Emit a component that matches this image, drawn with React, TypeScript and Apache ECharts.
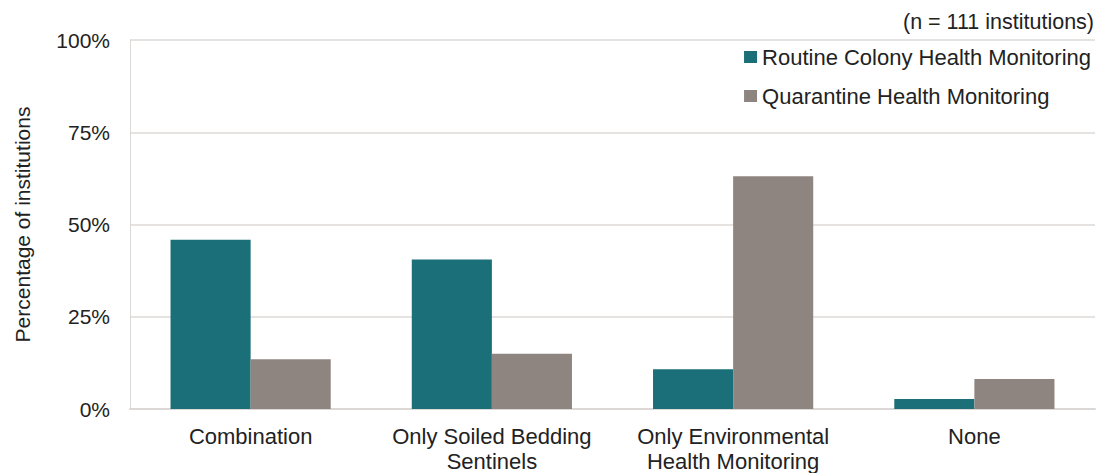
import React, { useEffect, useRef } from "react";
import * as echarts from "echarts";

const categories = ["Combination", "Only Soiled Bedding\nSentinels", "Only Environmental\nHealth Monitoring", "None"];
const routineValues = [45.9, 40.5, 10.8, 2.7];
const quarantineValues = [13.5, 15.0, 63.1, 8.1];
const yTicks = [0, 25, 50, 75, 100];
const seriesNames = ["Routine Colony Health Monitoring", "Quarantine Health Monitoring"];
const noteText = "(n = 111 institutions)";
const yAxisTitle = "Percentage of institutions";

const FONT = "'Liberation Sans', Arial, Helvetica, sans-serif";

export default function App() {
  const ref = useRef<HTMLDivElement>(null);
  useEffect(() => {
    if (!ref.current) return;
    const chart = echarts.init(ref.current, null, { renderer: "svg" });
    chart.setOption({
      animation: false,
      textStyle: { fontFamily: FONT },
      grid: { left: 130, right: 10, top: 40, bottom: 64, containLabel: false, outerBoundsMode: "none" },
      legend: {
        orient: "vertical",
        right: 9,
        top: 41,
        itemWidth: 13,
        itemHeight: 12,
        itemGap: 17,
        icon: "rect",
        textStyle: { fontSize: 22, color: "#222", fontFamily: FONT },
        data: seriesNames,
      },
      graphic: [
        {
          type: "text",
          right: 11,
          top: 11,
          style: { text: noteText, fontSize: 21.5, fill: "#222", fontFamily: FONT },
        },
      ],
      xAxis: {
        type: "category",
        data: categories,
        axisLine: { show: true, lineStyle: { color: "#dcd8d6", width: 2 } },
        axisTick: { show: false },
        axisLabel: { fontSize: 22, color: "#222", lineHeight: 25, margin: 15, interval: 0 },
      },
      yAxis: {
        type: "value",
        min: 0,
        max: 100,
        interval: 25,
        name: yAxisTitle,
        nameLocation: "middle",
        nameGap: 97,
        nameTextStyle: { fontSize: 21, color: "#222", fontFamily: FONT },
        axisLine: { show: true, lineStyle: { color: "#dcd8d6", width: 1 } },
        axisTick: { show: false },
        axisLabel: {
          fontSize: 21,
          color: "#222",
          margin: 20,
          formatter: (v: number) => (yTicks.includes(v) ? v + "%" : ""),
        },
        splitLine: { lineStyle: { color: "#e6e2e0", width: 2 } },
      },
      series: [
        {
          name: seriesNames[0],
          type: "bar",
          data: routineValues,
          barGap: "0%",
          barCategoryGap: "33.6%",
          itemStyle: { color: "#1a6f78" },
        },
        {
          name: seriesNames[1],
          type: "bar",
          data: quarantineValues,
          itemStyle: { color: "#8f8580" },
        },
      ],
    });
    return () => chart.dispose();
  }, []);
  return (
    <div
      ref={ref}
      style={{ position: "absolute", left: 0, top: 0, width: 1105, height: 473, background: "#fff" }}
    />
  );
}
